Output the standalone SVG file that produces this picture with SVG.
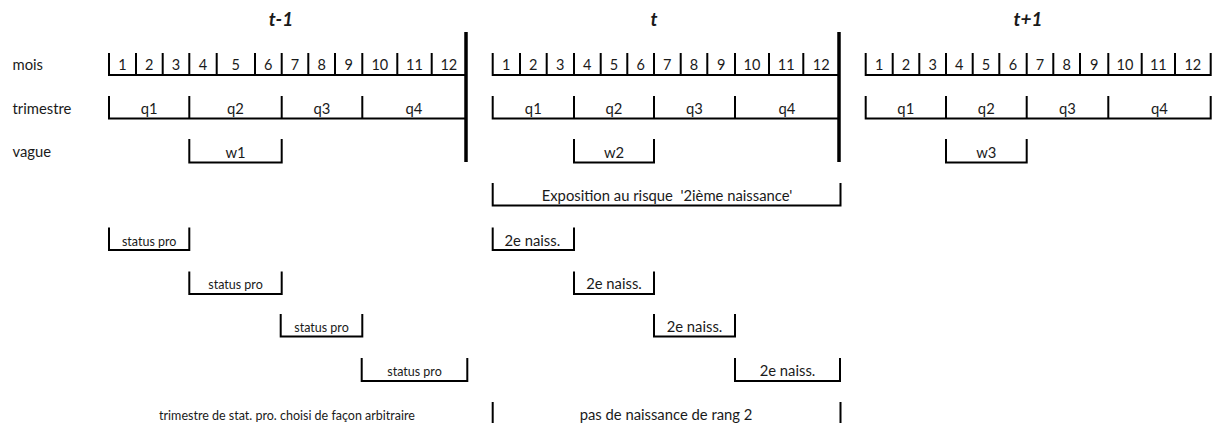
<svg xmlns="http://www.w3.org/2000/svg" width="1214" height="423" viewBox="0 0 1214 423">
  <style>
    text { font-family: Lato, "Liberation Sans", sans-serif; fill: #1a1a1a; }
    .lbl { font-size: 14.8px; }
    .num { font-size: 14.5px; text-anchor: middle; }
    .mid { font-size: 14.8px; text-anchor: middle; }
    .sm { font-size: 12.5px; text-anchor: middle; }
    .title { font-size: 19px; font-weight: bold; font-style: italic; text-anchor: middle; }
    .pre { white-space: pre; }
    .ln { fill: none; stroke: #000; stroke-width: 2; stroke-linecap: square; }
    .thick { fill: none; stroke: #000; stroke-width: 3.5; }
  </style>

  <!-- year titles -->
  <g id="titles">
    <text class="title" x="281" y="26">t-1</text>
    <text class="title" x="654" y="26">t</text>
    <text class="title" x="1028" y="26">t+1</text>
  </g>

  <!-- row labels -->
  <g id="row-labels">
    <text class="lbl" x="12.5" y="70">mois</text>
    <text class="lbl" x="12.5" y="113.5">trimestre</text>
    <text class="lbl" x="12.5" y="157">vague</text>
  </g>

  <!-- year t-1 -->
  <g id="year-t-1">
    <path class="ln" d="M109 54V75H464 M136 54V75 M162.7 54V75 M189.3 54V75 M216.7 54V75 M255 54V75 M281.7 54V75 M308.3 54V75 M335 54V75 M362.3 54V75 M397.3 54V75 M431.7 54V75"/>
    <g class="num">
      <text x="122.5" y="70">1</text><text x="149.3" y="70">2</text><text x="176" y="70">3</text>
      <text x="203" y="70">4</text><text x="235.8" y="70">5</text><text x="268.3" y="70">6</text>
      <text x="295" y="70">7</text><text x="321.7" y="70">8</text><text x="348.7" y="70">9</text>
      <text x="379.8" y="70">10</text><text x="414.5" y="70">11</text><text x="448.8" y="70">12</text>
    </g>
    <path class="ln" d="M109 97V118.5H464 M189.3 97V118.5 M281.7 97V118.5 M362.3 97V118.5"/>
    <g class="mid">
      <text x="149.2" y="113.5">q1</text><text x="235.5" y="113.5">q2</text>
      <text x="322" y="113.5">q3</text><text x="414" y="113.5">q4</text>
    </g>
    <path class="thick" d="M466 32V162"/>
  </g>

  <!-- year t -->
  <g id="year-t">
    <path class="ln" d="M492.7 54V75H837 M520 54V75 M546.7 54V75 M574 54V75 M600.7 54V75 M627.3 54V75 M654 54V75 M680.7 54V75 M707.3 54V75 M735 54V75 M769 54V75 M803.3 54V75"/>
    <g class="num">
      <text x="506.3" y="70">1</text><text x="533.3" y="70">2</text><text x="560.3" y="70">3</text>
      <text x="587.3" y="70">4</text><text x="614" y="70">5</text><text x="640.7" y="70">6</text>
      <text x="667.3" y="70">7</text><text x="694" y="70">8</text><text x="721.2" y="70">9</text>
      <text x="752" y="70">10</text><text x="786.2" y="70">11</text><text x="821.2" y="70">12</text>
    </g>
    <path class="ln" d="M492.7 97V118.5H837 M574 97V118.5 M654 97V118.5 M735 97V118.5"/>
    <g class="mid">
      <text x="533.3" y="113.5">q1</text><text x="614" y="113.5">q2</text>
      <text x="694.5" y="113.5">q3</text><text x="787" y="113.5">q4</text>
    </g>
    <path class="thick" d="M839 32V162"/>
  </g>

  <!-- year t+1 -->
  <g id="year-t1">
    <path class="ln" d="M865.7 54V75H1210.7V54 M892.7 54V75 M919.3 54V75 M946 54V75 M972.7 54V75 M999.3 54V75 M1026.7 54V75 M1053.3 54V75 M1080 54V75 M1108.3 54V75 M1141.7 54V75 M1175 54V75"/>
    <g class="num">
      <text x="879.2" y="70">1</text><text x="906" y="70">2</text><text x="932.7" y="70">3</text>
      <text x="959.3" y="70">4</text><text x="986" y="70">5</text><text x="1013" y="70">6</text>
      <text x="1040" y="70">7</text><text x="1066.7" y="70">8</text><text x="1094.2" y="70">9</text>
      <text x="1125" y="70">10</text><text x="1158.3" y="70">11</text><text x="1192.8" y="70">12</text>
    </g>
    <path class="ln" d="M865.7 97V118.5H1210.7V97 M946 97V118.5 M1026.7 97V118.5 M1108.3 97V118.5"/>
    <g class="mid">
      <text x="905.8" y="113.5">q1</text><text x="986.3" y="113.5">q2</text>
      <text x="1067.5" y="113.5">q3</text><text x="1159.5" y="113.5">q4</text>
    </g>
  </g>

  <!-- survey waves -->
  <g id="wave-w1">
    <path class="ln" d="M189.3 140V162.5H281.7V140"/>
    <text class="mid" x="235.5" y="158">w1</text>
  </g>
  <g id="wave-w2">
    <path class="ln" d="M574 140V162.5H654V140"/>
    <text class="mid" x="614" y="158">w2</text>
  </g>
  <g id="wave-w3">
    <path class="ln" d="M946 140V162.5H1026.7V140"/>
    <text class="mid" x="986.3" y="158">w3</text>
  </g>

  <!-- exposure window -->
  <g id="exposure">
    <path class="ln" d="M492.7 184V205.5H840.5V184"/>
    <text class="mid pre" x="667" y="200.5">Exposition au risque  '2ième naissance'</text>
  </g>

  <!-- professional status quarters, year t-1 -->
  <g id="status-q1">
    <path class="ln" d="M109 228.5V250H189.3V228.5"/>
    <text class="sm" x="149.2" y="245.5">status pro</text>
  </g>
  <g id="status-q2">
    <path class="ln" d="M189.3 272.5V294H281.7V272.5"/>
    <text class="sm" x="235.5" y="289">status pro</text>
  </g>
  <g id="status-q3">
    <path class="ln" d="M280.7 315V336.5H362.3V315"/>
    <text class="sm" x="321.5" y="332">status pro</text>
  </g>
  <g id="status-q4">
    <path class="ln" d="M361.7 359V381H467.3V359"/>
    <text class="sm" x="414.5" y="376">status pro</text>
  </g>

  <!-- second births, year t -->
  <g id="birth-q1">
    <path class="ln" d="M492.7 228.5V250H574V228.5"/>
    <text class="mid" x="532.3" y="245.5">2e naiss.</text>
  </g>
  <g id="birth-q2">
    <path class="ln" d="M574 272.5V294H654V272.5"/>
    <text class="mid" x="614" y="289">2e naiss.</text>
  </g>
  <g id="birth-q3">
    <path class="ln" d="M654 315V336.5H735V315"/>
    <text class="mid" x="694.5" y="332">2e naiss.</text>
  </g>
  <g id="birth-q4">
    <path class="ln" d="M735 359V381H840V359"/>
    <text class="mid" x="787.5" y="376">2e naiss.</text>
  </g>

  <!-- footnotes -->
  <g id="note-status">
    <text class="sm" x="287" y="419.5">trimestre de stat. pro. choisi de façon arbitraire</text>
  </g>
  <g id="note-nobirth">
    <path class="ln" d="M492.7 403V423 M840.5 403V423"/>
    <text class="mid" x="666" y="419.5">pas de naissance de rang 2</text>
  </g>
</svg>
